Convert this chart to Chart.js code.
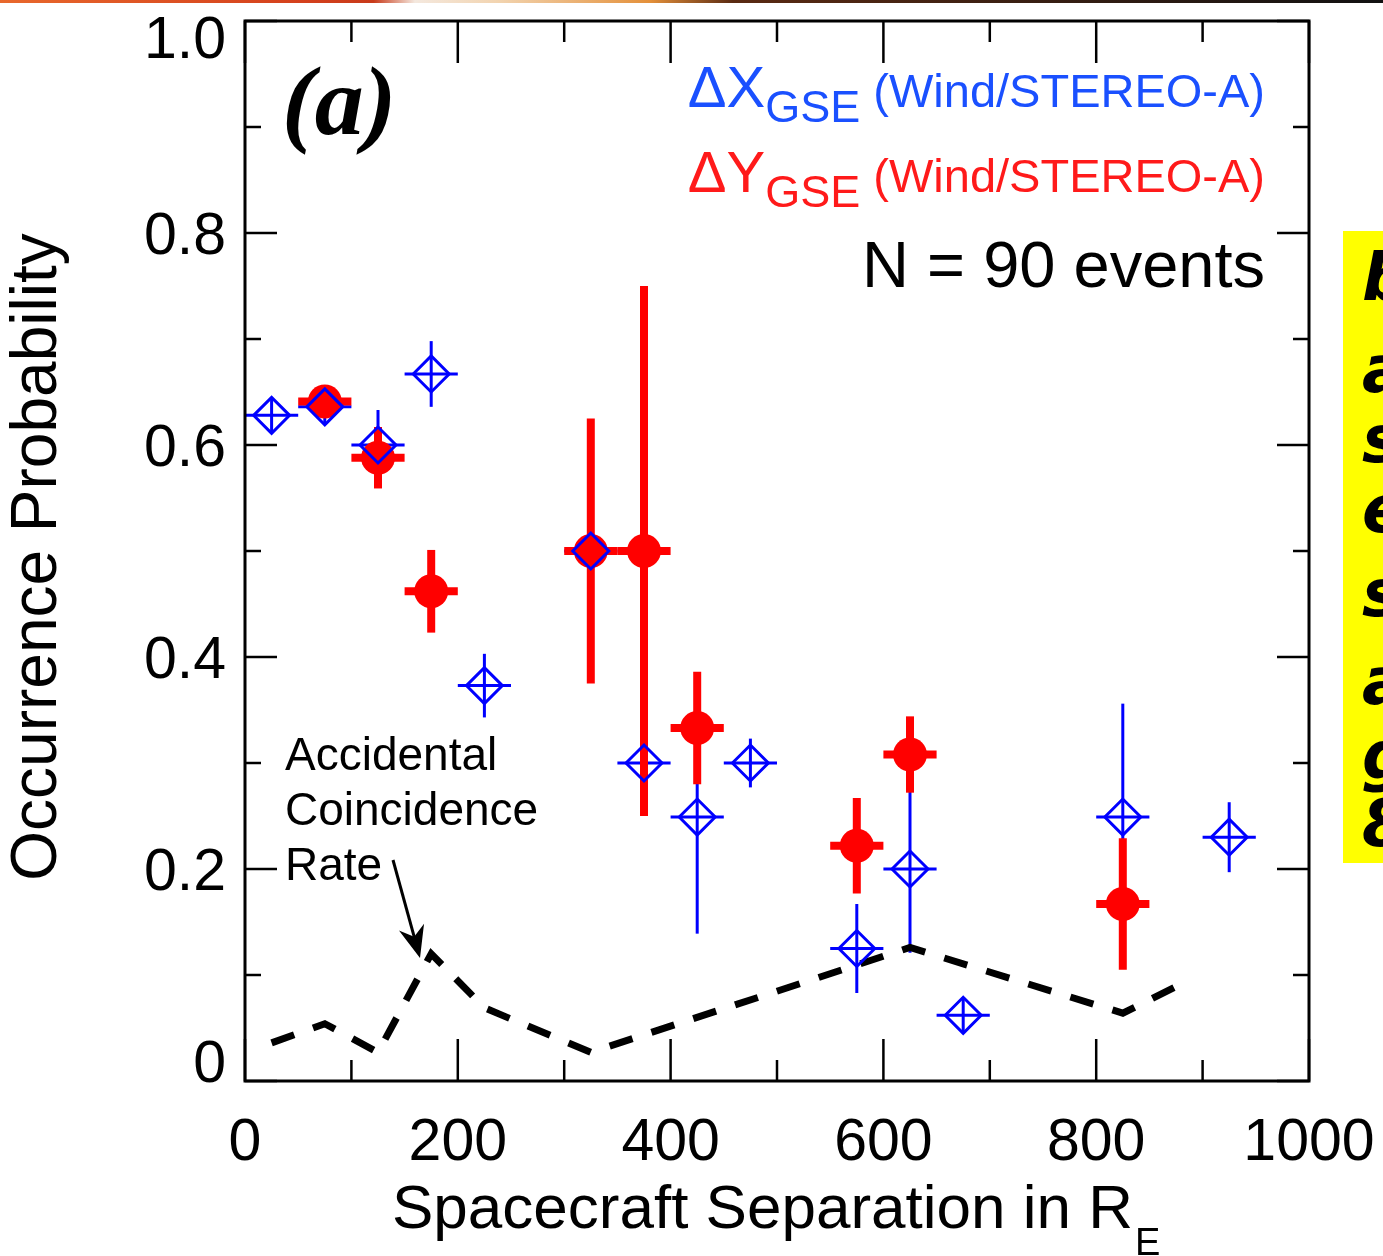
<!DOCTYPE html>
<html>
<head>
<meta charset="utf-8">
<script src="https://cdn.jsdelivr.net/npm/chart.js@4.4.0/dist/chart.umd.min.js"></script>
<style>
  html, body { margin: 0; padding: 0; background: #fff; }
  #wrap { width: 1383px; height: 1256px; }
</style>
</head>
<body>
<div id="wrap"><canvas id="chart" width="1383" height="1256"></canvas></div>
<script>
// Bin centres (R_E), occurrence probability and 1-sigma errors
const blueX   = [25, 75, 125, 175, 225, 325, 375, 425, 475, 575, 625, 675, 825, 925];
const blueY   = [0.628, 0.636, 0.600, 0.667, 0.373, 0.500, 0.300, 0.249, 0.300, 0.125, 0.200, 0.062, 0.249, 0.230];
const blueErr = [0.010, 0.012, 0.033, 0.031, 0.030, 0.030, 0.020, 0.110, 0.023, 0.042, 0.079, 0.010, 0.107, 0.033];

const redX   = [75, 125, 175, 325, 375, 425, 575, 625, 825];
const redY   = [0.641, 0.588, 0.462, 0.500, 0.500, 0.333, 0.222, 0.308, 0.167];
const redErr = [0.010, 0.029, 0.039, 0.125, 0.250, 0.053, 0.045, 0.036, 0.062];

const binHalf = 25; // half bin width, drawn as horizontal error bar

// Accidental coincidence rate (dashed line)
const accX = [25, 75, 125, 175, 225, 325, 625, 825, 875];
const accY = [0.036, 0.054, 0.027, 0.120, 0.069, 0.027, 0.126, 0.064, 0.089];

// Axis ticks
const xMajor  = [0, 200, 400, 600, 800, 1000];
const xMinor  = [100, 300, 500, 700, 900];
const xLabels = ['0', '200', '400', '600', '800', '1000'];
const yMajor  = [0, 0.2, 0.4, 0.6, 0.8, 1.0];
const yMinor  = [0.1, 0.3, 0.5, 0.7, 0.9];
const yLabels = ['0', '0.2', '0.4', '0.6', '0.8', '1.0'];

const BLUE = '#0000ff';
const RED = '#ff0000';
const SANS = '"Liberation Sans", Arial, sans-serif';

const line = (ctx, x0, y0, x1, y1) => {
    ctx.beginPath();
    ctx.moveTo(x0, y0);
    ctx.lineTo(x1, y1);
    ctx.stroke();
};

const text = (ctx, s, x, y, font, color, align) => {
    ctx.font = font;
    ctx.fillStyle = color;
    ctx.textAlign = align || 'left';
    ctx.textBaseline = 'alphabetic';
    ctx.fillText(s, x, y);
};

const decor = {
    id: 'decor',
    beforeDraw(chart) {
        const ctx = chart.ctx;
        ctx.save();
        // thin coloured strip at the very top (slide edge)
        const g = ctx.createLinearGradient(0, 0, 1383, 0);
        g.addColorStop(0, '#e8682c');
        g.addColorStop(0.22, '#d4401c');
        g.addColorStop(0.27, '#c83a1a');
        g.addColorStop(0.30, '#f4e8de');
        g.addColorStop(0.36, '#f2d4b0');
        g.addColorStop(0.47, '#e4903a');
        g.addColorStop(0.53, '#5a2a12');
        g.addColorStop(1, '#111111');
        ctx.fillStyle = g;
        ctx.fillRect(0, 0, 1383, 3);

        // yellow note box cut off at the right edge
        ctx.fillStyle = '#ffff00';
        ctx.fillRect(1343, 231, 40, 632);
        const letters = ['b', 'a', 's', 'e', 's', 'a', 'g', '8'];
        const ys = [300, 392, 462, 532, 616, 704, 778, 846];
        ctx.font = 'bold italic 66px "DejaVu Sans", sans-serif';
        ctx.fillStyle = '#000';
        ctx.textAlign = 'left';
        letters.forEach((l, i) => ctx.fillText(l, 1362, ys[i]));
        ctx.restore();
    },
    beforeDatasetsDraw(chart) {
        const ctx = chart.ctx;
        const xs = chart.scales.x, ys = chart.scales.y;
        ctx.save();
        ctx.lineCap = 'butt';

        // blue error bars (with the cross inside each diamond)
        ctx.strokeStyle = BLUE;
        ctx.lineWidth = 3;
        blueX.forEach((x, i) => {
            const px = xs.getPixelForValue(x);
            const py = ys.getPixelForValue(blueY[i]);
            line(ctx, xs.getPixelForValue(x - binHalf), py, xs.getPixelForValue(x + binHalf), py);
            const top = Math.min(ys.getPixelForValue(blueY[i] + blueErr[i]), py - 18);
            const bot = Math.max(ys.getPixelForValue(blueY[i] - blueErr[i]), py + 18);
            line(ctx, px, top, px, bot);
        });

        // red error bars
        ctx.strokeStyle = RED;
        ctx.lineWidth = 8;
        redX.forEach((x, i) => {
            const px = xs.getPixelForValue(x);
            const py = ys.getPixelForValue(redY[i]);
            line(ctx, xs.getPixelForValue(x - binHalf), py, xs.getPixelForValue(x + binHalf), py);
            line(ctx, px, ys.getPixelForValue(redY[i] + redErr[i]), px, ys.getPixelForValue(redY[i] - redErr[i]));
        });
        ctx.restore();
    },
    afterDraw(chart) {
        const ctx = chart.ctx;
        const xs = chart.scales.x, ys = chart.scales.y;
        const a = chart.chartArea;
        ctx.save();

        // frame
        ctx.strokeStyle = '#000';
        ctx.lineWidth = 3;
        ctx.strokeRect(a.left, a.top, a.right - a.left, a.bottom - a.top);

        // ticks on all four sides, pointing inward
        ctx.lineWidth = 2.5;
        const xTick = (v, len) => {
            const p = xs.getPixelForValue(v);
            line(ctx, p, a.bottom, p, a.bottom - len);
            line(ctx, p, a.top, p, a.top + len);
        };
        const yTick = (v, len) => {
            const p = ys.getPixelForValue(v);
            line(ctx, a.left, p, a.left + len, p);
            line(ctx, a.right, p, a.right - len, p);
        };
        xMajor.forEach(v => xTick(v, 42));
        xMinor.forEach(v => xTick(v, 21));
        yMajor.forEach(v => yTick(v, 32));
        yMinor.forEach(v => yTick(v, 16));

        // tick labels
        const tickFont = '59px ' + SANS;
        xMajor.forEach((v, i) => text(ctx, xLabels[i], xs.getPixelForValue(v), 1160, tickFont, '#000', 'center'));
        yMajor.forEach((v, i) => {
            const cy = Math.min(Math.max(ys.getPixelForValue(v), a.top + 16), a.bottom - 20);
            text(ctx, yLabels[i], 226, cy + 21, tickFont, '#000', 'right');
        });

        // axis titles
        text(ctx, 'Spacecraft Separation in R', 392, 1228, '62px ' + SANS, '#000', 'left');
        ctx.font = '62px ' + SANS;
        const tw = ctx.measureText('Spacecraft Separation in R').width;
        text(ctx, 'E', 392 + tw + 2, 1255, '38px ' + SANS, '#000', 'left');

        ctx.save();
        ctx.translate(56, 557);
        ctx.rotate(-Math.PI / 2);
        text(ctx, 'Occurrence Probability', 0, 0, '64px ' + SANS, '#000', 'center');
        ctx.restore();

        // panel label
        text(ctx, '(a)', 282, 134, 'bold italic 98px "Liberation Serif", "Times New Roman", serif', '#000', 'left');

        // legend rows, right aligned at x = 1265
        const legendRow = (sym, baseline, color) => {
            const parts = [
                { s: sym, f: '58px ' + SANS, dy: 0 },
                { s: 'GSE', f: '45px ' + SANS, dy: 15 },
                { s: ' (Wind/STEREO-A)', f: '47px ' + SANS, dy: 0 }
            ];
            let total = 0;
            parts.forEach(p => { ctx.font = p.f; p.w = ctx.measureText(p.s).width; total += p.w; });
            let x = 1265 - total;
            parts.forEach(p => { text(ctx, p.s, x, baseline + p.dy, p.f, color, 'left'); x += p.w; });
        };
        legendRow('\u0394X', 107, '#1a50ff');
        legendRow('\u0394Y', 192, '#ff1a1a');
        text(ctx, 'N = 90 events', 1265, 287, '65px ' + SANS, '#000', 'right');

        // accidental coincidence annotation with arrow
        const annFont = '46px ' + SANS;
        text(ctx, 'Accidental', 285, 770, annFont, '#000', 'left');
        text(ctx, 'Coincidence', 285, 825, annFont, '#000', 'left');
        text(ctx, 'Rate', 285, 880, annFont, '#000', 'left');

        const tail = { x: 393, y: 860 }, tip = { x: 420, y: 958 };
        const dx = tip.x - tail.x, dy = tip.y - tail.y, L = Math.hypot(dx, dy);
        const ux = dx / L, uy = dy / L;
        ctx.strokeStyle = '#000';
        ctx.lineWidth = 3;
        line(ctx, tail.x, tail.y, tip.x - ux * 20, tip.y - uy * 20);
        const bx = tip.x - ux * 32, by = tip.y - uy * 32;
        ctx.fillStyle = '#000';
        ctx.beginPath();
        ctx.moveTo(tip.x, tip.y);
        ctx.lineTo(bx + uy * 13, by - ux * 13);
        ctx.lineTo(tip.x - ux * 22, tip.y - uy * 22);
        ctx.lineTo(bx - uy * 13, by + ux * 13);
        ctx.closePath();
        ctx.fill();

        ctx.restore();
    }
};

const ctx = document.getElementById('chart').getContext('2d');
new Chart(ctx, {
    type: 'scatter',
    data: {
        datasets: [
            {
                label: '\u0394X GSE (Wind/STEREO-A)',
                data: blueX.map((x, i) => ({ x: x, y: blueY[i] })),
                pointStyle: 'rectRot',
                pointRadius: 18,
                borderColor: BLUE,
                borderWidth: 3,
                backgroundColor: 'rgba(0,0,0,0)',
                order: 0
            },
            {
                label: '\u0394Y GSE (Wind/STEREO-A)',
                data: redX.map((x, i) => ({ x: x, y: redY[i] })),
                pointStyle: 'circle',
                pointRadius: 17,
                borderWidth: 0,
                backgroundColor: RED,
                order: 1
            },
            {
                type: 'line',
                label: 'Accidental Coincidence Rate',
                data: accX.map((x, i) => ({ x: x, y: accY[i] })),
                borderColor: '#000',
                borderWidth: 7,
                borderDash: [24, 20],
                borderCapStyle: 'butt',
                pointRadius: 0,
                fill: false,
                tension: 0,
                order: 2
            }
        ]
    },
    options: {
        responsive: false,
        animation: false,
        events: [],
        layout: { padding: { left: 245, top: 18, right: 74, bottom: 175 } },
        plugins: { legend: { display: false }, tooltip: { enabled: false } },
        scales: {
            x: { type: 'linear', min: 0, max: 1000, display: false },
            y: { type: 'linear', min: 0, max: 1, display: false }
        }
    },
    plugins: [decor]
});
</script>
</body>
</html>
